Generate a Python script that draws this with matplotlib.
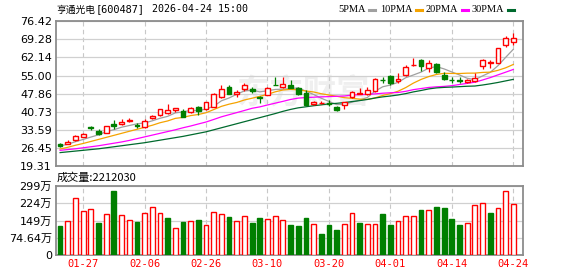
import numpy as np
import pandas as pd
import matplotlib
matplotlib.use("Agg")
import matplotlib.pyplot as plt
from matplotlib.patches import Rectangle
from matplotlib.lines import Line2D

# daily candles, 2026-01-22 .. 2026-04-24
opens = [28.1, 28.1, 29.4, 30.9, 34.6, 33.1, 32.5, 35.8, 36.0, 36.9,
         35.5, 34.7, 38.3, 39.3, 40.1, 41.4, 40.9, 40.8, 42.6, 41.7,
         42.7, 46.4, 50.5, 47.6, 49.6, 49.6, 46.4, 47.5, 51.4, 50.4,
         51.3, 50.1, 48.0, 43.7, 44.1, 44.1, 42.5, 43.4, 46.4, 47.9,
         47.6, 48.8, 53.4, 54.8, 52.7, 55.1, 59.0, 61.2, 57.9, 59.7,
         55.4, 53.4, 53.1, 52.3, 52.9, 58.9, 60.1, 60.1, 67.1, 68.4]
closes = [27.4, 28.8, 31.2, 31.9, 34.3, 31.9, 35.0, 35.1, 36.8, 37.6,
          35.2, 36.9, 39.2, 41.8, 41.4, 42.1, 38.8, 42.3, 41.1, 44.6,
          47.6, 49.6, 47.9, 48.5, 51.2, 49.1, 46.1, 50.0, 51.2, 51.7,
          50.2, 47.7, 43.5, 44.6, 44.3, 43.9, 41.4, 44.4, 48.5, 48.3,
          49.2, 53.8, 53.1, 51.9, 53.7, 58.3, 59.2, 58.8, 59.8, 56.6,
          53.7, 53.2, 52.9, 53.3, 53.9, 61.0, 60.3, 65.9, 69.7, 69.9]
highs = [28.5, 29.4, 31.6, 32.5, 35.1, 33.8, 35.0, 37.5, 38.0, 38.2,
         36.4, 37.9, 39.4, 42.0, 43.8, 42.3, 41.7, 42.5, 43.0, 44.7,
         48.0, 51.3, 51.2, 49.2, 52.2, 50.6, 46.9, 50.5, 54.3, 54.6,
         53.3, 50.6, 49.3, 45.1, 44.8, 45.4, 43.0, 44.7, 49.0, 50.1,
         50.4, 53.9, 54.6, 55.2, 55.9, 59.1, 61.8, 61.4, 61.2, 60.1,
         56.6, 54.6, 54.3, 53.5, 56.2, 61.4, 61.2, 66.0, 70.6, 71.7]
lows = [27.0, 28.0, 29.2, 30.6, 33.5, 31.4, 32.4, 33.9, 35.6, 36.7,
        34.3, 34.3, 37.7, 39.2, 40.0, 40.8, 38.5, 40.1, 39.3, 41.4,
        42.5, 46.2, 47.7, 46.4, 48.9, 48.0, 44.0, 47.2, 51.1, 50.2,
        50.0, 47.4, 43.3, 43.3, 43.6, 43.0, 41.1, 41.9, 46.2, 47.6,
        47.3, 48.5, 51.9, 51.4, 51.9, 54.8, 58.8, 56.9, 56.6, 55.9,
        53.3, 52.2, 52.2, 51.9, 52.5, 57.6, 57.9, 59.8, 66.4, 67.0]

# volume in 万, and whether the volume bar is red (1) or green (0)
volumes = [125.5, 145.7, 245.2, 189.0, 197.6, 138.5, 176.0, 277.0, 171.6, 150.0,
           142.8, 180.3, 206.2, 180.3, 160.1, 119.7, 142.8, 145.7, 151.4, 128.4,
           184.6, 176.0, 164.4, 145.7, 167.3, 138.5, 160.1, 154.3, 167.3, 150.0,
           129.8, 125.5, 160.1, 137.0, 90.9, 129.8, 108.2, 137.0, 180.3, 138.5,
           137.0, 132.7, 177.4, 129.8, 145.7, 167.3, 167.3, 194.7, 193.3, 207.7,
           203.4, 155.8, 129.8, 141.3, 214.9, 223.6, 181.7, 201.9, 275.5, 221.2]
vol_up = [0, 1, 1, 1, 1, 0, 1, 0, 1, 1, 0, 1, 1, 1, 0, 1, 0, 1, 0, 1,
          1, 1, 0, 1, 1, 0, 0, 1, 1, 1, 0, 0, 0, 1, 0, 0, 0, 1, 1, 0,
          1, 1, 0, 0, 1, 1, 1, 0, 1, 0, 0, 0, 0, 1, 1, 1, 0, 1, 1, 1]

# MA values before a full window is available inside the chart
ma5_head = [27.2, 27.9, 28.9, 29.8]
ma10_head = [26.0, 26.7, 27.5, 28.2, 29.0, 29.8, 30.6, 31.4, 32.2]
ma20_head = [25.5, 25.8, 26.1, 26.5, 26.9, 27.3, 27.8, 28.3, 28.8, 29.4,
             30.1, 30.8, 31.5, 32.2, 32.9, 33.6, 34.4, 35.1, 35.9]
ma30_head = [24.6, 24.9, 25.2, 25.5, 25.8, 26.1, 26.5, 26.9, 27.3, 27.7,
             28.1, 28.5, 29.0, 29.5, 30.0, 30.5, 31.0, 31.6, 32.2, 32.8,
             33.6, 34.4, 35.2, 36.0, 36.8, 37.6, 38.4, 39.2, 40.0]

price_ticks = [19.31, 26.45, 33.59, 40.73, 47.86, 55.00, 62.14, 69.28, 76.42]
vol_ticks = [0, 74.64, 149.28, 223.92, 298.56]
vol_labels = ["0", "74.64万", "149万", "224万", "299万"]
holidays = ["2026-02-16", "2026-02-17", "2026-02-18", "2026-02-19",
            "2026-02-20", "2026-02-23", "2026-04-06"]
stock_name = "亨通光电"
stock_code = "[600487]"
stamp = "2026-04-24 15:00"
vol_title = "成交量:2212030"

dates = pd.bdate_range("2026-01-22", "2026-04-24").drop(pd.to_datetime(holidays))
n = len(closes)
x = np.arange(n)

cs = pd.Series(closes)
def ma(win, head):
    m = cs.rolling(win).mean().to_numpy()
    m[:len(head)] = head
    return m

mas = [(ma(5, ma5_head), "#a0a0a0", "5PMA"),
       (ma(10, ma10_head), "#f5a300", "10PMA"),
       (ma(20, ma20_head), "#ff00ff", "20PMA"),
       (ma(30, ma30_head), "#006a2e", "30PMA")]

RED = "#ff0000"
GREEN = "#007f00"
W = 578
H = 276
fig = plt.figure(figsize=(W / 100, H / 100), dpi=100)
ax1 = fig.add_axes([55.5 / W, 1 - 166 / H, 467 / W, 144.7 / H])
ax2 = fig.add_axes([55.5 / W, 1 - 255.3 / H, 467 / W, 69.3 / H])

cjk = ["DejaVu Sans", "Noto Sans CJK SC"]
tick_pos = list(range(n - 1, -1, -8))[::-1]

for ax in (ax1, ax2):
    ax.set_xlim(-0.6, 60.2)
    for s in ax.spines.values():
        s.set_color("#8c8c8c")
        s.set_linewidth(1.3)
    ax.set_xticks(tick_pos)
    ax.tick_params(length=0, pad=2.5, labelsize=7.5)
    ax.grid(axis="x", color="#c8c8c8", linestyle=(0, (4, 3)), linewidth=0.8)
    ax.grid(axis="y", color="#d0d0d0", linestyle="-", linewidth=0.9)
    ax.set_axisbelow(True)

# price panel
ax1.set_ylim(price_ticks[0], price_ticks[-1])
ax1.set_yticks(price_ticks)
ax1.set_yticklabels(["%.2f" % t for t in price_ticks], fontsize=8)
ax1.set_xticklabels([])
ax1.text(0.53, 0.50, "东方财富", transform=ax1.transAxes, ha="center", va="center",
         fontsize=24, color="#efefef", fontfamily="Noto Sans CJK SC",
         fontweight="bold", zorder=0)

bw = 0.62
for i in x:
    o, c, h, l = opens[i], closes[i], highs[i], lows[i]
    top, bot = max(o, c), min(o, c)
    if c >= o:
        ax1.vlines(i, top, h, color=RED, lw=0.9, zorder=3)
        ax1.vlines(i, l, bot, color=RED, lw=0.9, zorder=3)
        ax1.add_patch(Rectangle((i - bw / 2, bot), bw, top - bot, facecolor="white",
                                edgecolor=RED, lw=1.0, zorder=4))
    else:
        ax1.vlines(i, l, h, color=GREEN, lw=0.9, zorder=3)
        ax1.add_patch(Rectangle((i - bw / 2, bot), bw, top - bot, facecolor=GREEN,
                                edgecolor=GREEN, lw=1.0, zorder=4))

for m, col, _ in mas:
    ax1.plot(x, m, color=col, lw=0.9, zorder=2)

# volume panel
ax2.set_ylim(0, vol_ticks[-1])
ax2.set_yticks(vol_ticks)
ax2.set_yticklabels(vol_labels, fontsize=8, fontfamily=cjk)
ax2.set_xticklabels([dates[i].strftime("%m-%d") for i in tick_pos],
                    color=RED, fontsize=7.5, fontfamily="DejaVu Sans Mono")
ax2.tick_params(axis="x", pad=3)
for i in x:
    if vol_up[i]:
        ax2.bar(i, volumes[i], bw, facecolor="white", edgecolor=RED, lw=1.0, zorder=3)
    else:
        ax2.bar(i, volumes[i], bw, facecolor=GREEN, edgecolor=GREEN, lw=1.0, zorder=3)

# header texts, placed one after another
ty = 1 - 9.5 / H
px = 56
for txt, fam, size, gap in [(stock_name, "Noto Sans CJK SC", 7.0, 1),
                            (stock_code, "DejaVu Sans Mono", 7.4, 7),
                            (stamp, "DejaVu Sans Mono", 7.2, 0)]:
    t = fig.text(px / W, ty, txt, fontsize=size, va="center", fontfamily=fam)
    fig.canvas.draw()
    px = t.get_window_extent().x1 + gap
fig.text(57 / W, 1 - 177.5 / H, vol_title, fontsize=8, va="center",
         fontfamily=["Noto Sans CJK SC", "DejaVu Sans"])

# legend row
lx = [338, 380, 426, 472]
for (m, col, name), px in zip(mas, lx):
    t = fig.text(px / W, ty, name, fontsize=7.5, va="center",
                 fontfamily="Liberation Serif")
    fig.canvas.draw()
    bb = t.get_window_extent()
    x0 = bb.x1 + 3
    fig.add_artist(Line2D([x0 / W, (x0 + 6) / W], [ty, ty],
                          color=col, lw=2.2, transform=fig.transFigure))

fig.savefig("out.png", dpi=100)
